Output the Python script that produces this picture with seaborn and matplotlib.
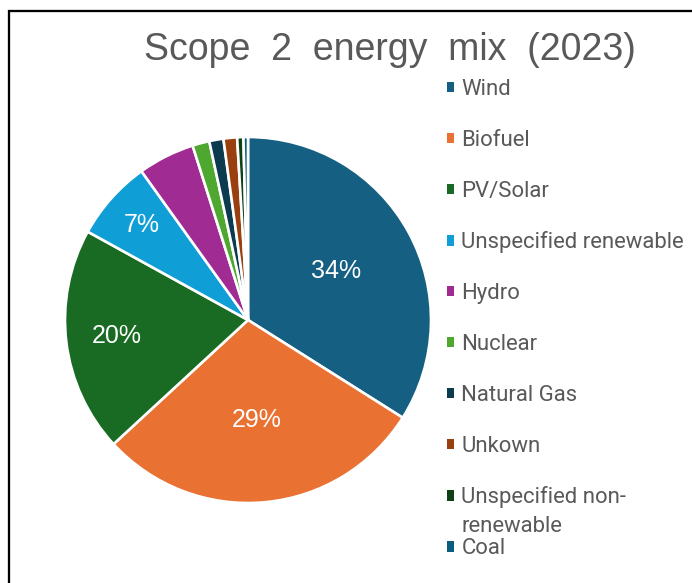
import numpy as np
import matplotlib
matplotlib.use("Agg")
import matplotlib.pyplot as plt
from matplotlib.patches import Patch, Rectangle
from matplotlib.transforms import IdentityTransform
import seaborn as sns

# ---- data ----
categories = ["Wind", "Biofuel", "PV/Solar", "Unspecified renewable", "Hydro",
              "Nuclear", "Natural Gas", "Unkown", "Unspecified non-renewable", "Coal"]
shares = [34.0, 29.2, 19.9, 7.1, 5.0, 1.5, 1.25, 1.2, 0.55, 0.4]
legend_labels = ["Wind", "Biofuel", "PV/Solar", "Unspecified renewable", "Hydro",
                 "Nuclear", "Natural Gas", "Unkown", "Unspecified non-", "Coal"]
wrap_line = "renewable"
colors = ["#156082", "#E97132", "#196B24", "#0F9ED5", "#A02B93",
          "#4EA72E", "#0C3A4E", "#9A4010", "#0F4016", "#095E80"]
title = "Scope  2  energy  mix  (2023)"

# ---- style ----
label_radius = [0.55, 0.55, 0.72, 0.78]
grey = "#595959"

sns.set_theme(style="white")
plt.rcParams['font.family'] = ['Liberation Sans', 'DejaVu Sans']

W, H = 692, 583
fig = plt.figure(figsize=(W / 100, H / 100), dpi=100)
fig.patch.set_facecolor("white")

ax = fig.add_axes([65 / W, 1 - 503 / H, 366 / W, 366 / H])
palette = sns.color_palette(colors)
wedges, _ = ax.pie(shares, colors=palette, startangle=90, counterclock=False,
                   wedgeprops=dict(edgecolor="white", linewidth=1.9))
ax.set_xlim(-1, 1)
ax.set_ylim(-1, 1)
ax.set_aspect("equal")
ax.axis("off")

total = sum(shares)
for w, v, r in zip(wedges, shares, label_radius):
    ang = np.deg2rad((w.theta1 + w.theta2) / 2)
    ax.text(r * np.cos(ang), r * np.sin(ang), f"{v / total * 100:.0f}%",
            ha="center", va="center", color="white", fontsize=18)

fig.text(390 / W, 1 - 59.5 / H, title, ha="center", va="baseline",
         fontsize=27, color=grey)

fs = 15.9
handles = [Patch(facecolor=c, edgecolor="none") for c in palette]
leg = fig.legend(handles, legend_labels, loc="upper left",
                 bbox_to_anchor=(446.5 / W, 1 - 79 / H), frameon=False,
                 prop={"family": "Roboto", "size": fs},
                 handlelength=0.34, handleheight=0.34, handletextpad=0.33,
                 labelspacing=1.35, borderpad=0, borderaxespad=0,
                 labelcolor=grey)

fig.canvas.draw()
renderer = fig.canvas.get_renderer()
t = leg.get_texts()[8]
bb = t.get_window_extent(renderer)
fig.text(bb.x0, bb.y0 - 29, wrap_line, transform=IdentityTransform(),
         va="bottom", ha="left", family="Roboto", fontsize=fs, color=grey)

fig.add_artist(Rectangle((9.3 / W, -0.1), 1.2, (1 - 11.2 / H) + 0.1,
                         transform=fig.transFigure, fill=False,
                         edgecolor="#000000", linewidth=1.65))

fig.savefig("out.png", dpi=100, facecolor="white")
